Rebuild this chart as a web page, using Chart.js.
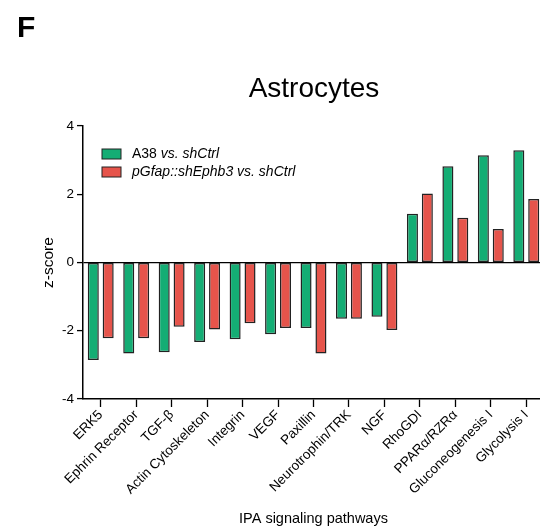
<!DOCTYPE html>
<html>
<head>
<meta charset="utf-8">
<script src="https://cdn.jsdelivr.net/npm/chart.js@4/dist/chart.umd.min.js"></script>
<style>
  html, body { margin: 0; padding: 0; background: #fff; overflow: hidden; }
  #wrap { width: 550px; height: 529px; position: relative; }
</style>
</head>
<body>
<div id="wrap"><canvas id="chart"></canvas></div>
<script>
const pathways = ['ERK5', 'Ephrin Receptor', 'TGF-\u03b2', 'Actin Cytoskeleton', 'Integrin', 'VEGF', 'Paxillin',
  'Neurotrophin/TRK', 'NGF', 'RhoGDI', 'PPAR\u03b1/RZR\u03b1', 'Gluconeogenesis I', 'Glycolysis I'];
const a38 = [-2.86, -2.67, -2.63, -2.33, -2.25, -2.10, -1.92, -1.65, -1.59, 1.43, 2.82, 3.14, 3.29];
const ephb3 = [-2.22, -2.22, -1.88, -1.96, -1.78, -1.92, -2.67, -1.65, -1.98, 2.02, 1.31, 0.98, 1.86];
const yTicks = [-4, -2, 0, 2, 4];

const FONT = 'Arial, "Liberation Sans", sans-serif';
const GREEN = '#14AD74';
const RED = '#E6544B';

// titles, panel letter and the legend with mixed italic text
const extras = {
  id: 'extras',
  afterDraw(chart) {
    const ctx = chart.ctx;
    ctx.save();
    ctx.fillStyle = '#000';
    ctx.textBaseline = 'alphabetic';
    ctx.textAlign = 'left';
    ctx.font = 'bold 30px ' + FONT;
    ctx.fillText('F', 17, 37);
    ctx.textAlign = 'center';
    ctx.font = '28px ' + FONT;
    ctx.fillText('Astrocytes', 314, 97);

    const rows = [
      { color: GREEN, parts: [['A38 ', ''], ['vs. shCtrl', 'italic ']] },
      { color: RED, parts: [['pGfap::shEphb3 vs. shCtrl', 'italic ']] }
    ];
    ctx.textAlign = 'left';
    ctx.textBaseline = 'middle';
    rows.forEach((r, i) => {
      const y = 149 + i * 18;
      ctx.fillStyle = r.color;
      ctx.fillRect(102, y, 19, 10);
      ctx.strokeStyle = '#222';
      ctx.lineWidth = 1;
      ctx.strokeRect(102, y, 19, 10);
      let x = 132;
      ctx.fillStyle = '#000';
      r.parts.forEach(([t, st]) => {
        ctx.font = st + '14px ' + FONT;
        ctx.fillText(t, x, y + 5.5);
        x += ctx.measureText(t).width;
      });
    });
    ctx.restore();
  }
};

new Chart(document.getElementById('chart'), {
  type: 'bar',
  data: {
    labels: pathways,
    datasets: [
      { label: 'A38 vs. shCtrl', data: a38, backgroundColor: GREEN },
      { label: 'pGfap::shEphb3 vs. shCtrl', data: ephb3, backgroundColor: RED }
    ]
  },
  options: {
    responsive: true,
    maintainAspectRatio: false,
    animation: false,
    layout: { padding: { top: 126, right: 6, left: 35, bottom: 0 } },
    datasets: {
      bar: {
        categoryPercentage: 0.84,
        barPercentage: 0.74,
        borderColor: '#222',
        borderWidth: 1.5,
        borderSkipped: false
      }
    },
    plugins: {
      legend: { display: false },
      tooltip: { enabled: false }
    },
    scales: {
      x: {
        afterFit: (s) => { s.height = 130; },
        grid: {
          offset: false,
          drawOnChartArea: false,
          tickLength: 8,
          tickColor: '#000',
          tickWidth: 1.3
        },
        border: { display: true, color: '#000', width: 1.5 },
        ticks: {
          minRotation: 45,
          maxRotation: 45,
          autoSkip: false,
          padding: 0,
          color: '#000',
          font: { family: FONT, size: 13.5 }
        },
        title: {
          display: true,
          text: 'IPA signaling pathways',
          color: '#000',
          padding: { top: 0, bottom: 1 },
          font: { family: FONT, size: 14.5 }
        }
      },
      y: {
        min: -4,
        max: 4,
        afterFit: (s) => { s.width = 48; },
        afterBuildTicks: (s) => { s.ticks = yTicks.map(v => ({ value: v })); },
        grid: {
          color: (c) => (c.tick && c.tick.value === 0 ? '#000' : 'rgba(0,0,0,0)'),
          lineWidth: 1.2,
          tickLength: 6,
          tickColor: '#000',
          tickWidth: 1.3
        },
        border: { display: true, color: '#000', width: 1.5 },
        ticks: {
          padding: 3,
          color: '#000',
          font: { family: FONT, size: 13.5 }
        },
        title: {
          display: true,
          text: 'z-score',
          color: '#000',
          padding: { top: 4, bottom: 0 },
          font: { family: FONT, size: 15.5 }
        }
      }
    }
  },
  plugins: [extras]
});
</script>
</body>
</html>
